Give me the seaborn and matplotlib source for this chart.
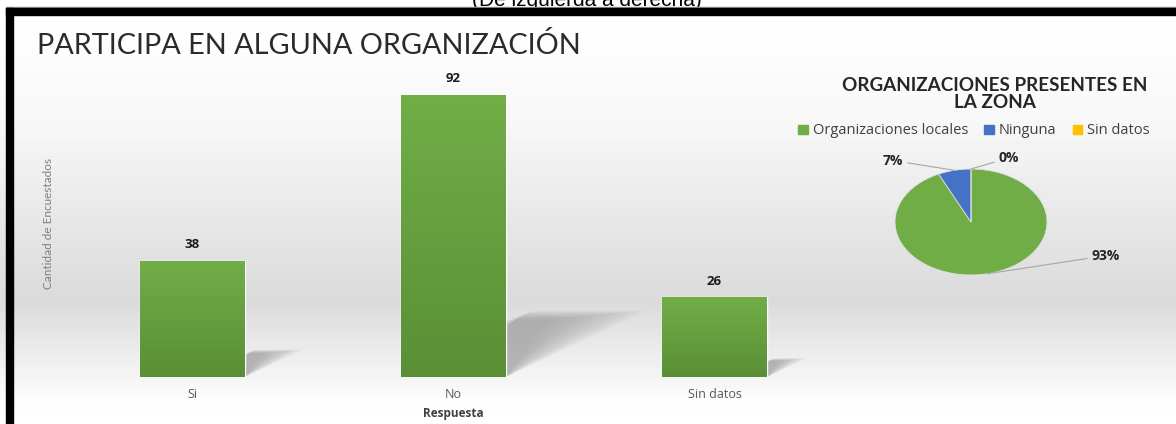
import numpy as np
import pandas as pd
import matplotlib
matplotlib.use("Agg")
import matplotlib.pyplot as plt
import seaborn as sns
from matplotlib.patches import Polygon, Rectangle, Patch
from matplotlib.colors import LinearSegmentedColormap

# ── DATA ────────────────────────────────────────────────────────────────────
respuestas = ["Si", "No", "Sin datos"]
encuestados = [38, 92, 26]

org_labels = ["Organizaciones locales", "Ninguna", "Sin datos"]
org_pct = [93, 7, 0]
org_colors = ["#70AD47", "#4472C4", "#FFC000"]

# ── SETUP ───────────────────────────────────────────────────────────────────
sns.set_theme(style="white")
plt.rcParams["font.family"] = ["Lato", "DejaVu Sans"]

W, H = 1176, 424
fig = plt.figure(figsize=(W / 100, H / 100), dpi=100)

# background gradient + black frame (pixel coords)
bg = fig.add_axes([0, 0, 1, 1], zorder=-10)
rows = np.arange(H)
shade = np.interp(rows, [0, 15, 120, 300, 400, 424],
                  [1.0, 1.0, 0.97, 0.855, 0.99, 1.0])
bg.imshow(shade[:, None], cmap="gray", vmin=0, vmax=1, aspect="auto",
          extent=[0, W, H, 0])
bg.set_xlim(0, W)
bg.set_ylim(H, 0)
bg.axis("off")
bg.text(587, 6, "(De izquierda a derecha)", ha="center", va="baseline",
        fontsize=15, family="Liberation Sans", color="black")
bg.add_patch(Rectangle((6, 7), W, 1.2, color="#9a9a9a", zorder=5))
bg.add_patch(Rectangle((6, 8), W, 7, color="black", zorder=6))
bg.add_patch(Rectangle((6, 8), 7, H, color="black", zorder=6))

fig.text(37 / W, 1 - 45 / H, "PARTICIPA EN ALGUNA ORGANIZACIÓN",
         fontsize=20.8, va="center", ha="left", color="#2b2b2b")

# ── BAR CHART ───────────────────────────────────────────────────────────────
ax = fig.add_axes([62 / W, (H - 377) / H, 783 / W, 306.5 / H])
ax.patch.set_alpha(0)
df = pd.DataFrame({"Respuesta": respuestas, "Cantidad": encuestados})
sns.barplot(data=df, x="Respuesta", y="Cantidad", color="#70AD47",
            width=0.4, ax=ax, zorder=3, saturation=1)

green = LinearSegmentedColormap.from_list("g", ["#5B8F36", "#71AE47"])
grad = np.linspace(0, 1, 100)[:, None]
for p in list(ax.patches):
    x0, w, h = p.get_x(), p.get_width(), p.get_height()
    xr = x0 + w
    s = 0.0059 * h
    # soft shadow: stacked translucent layers, darker near the bar
    for k in np.linspace(1.0, 0.3, 18):
        kv = 0.8 + 0.2 * k
        poly = Polygon([(xr, 0), (xr, 0.2 * h * kv),
                        (xr + 0.2 * s * k, 0.235 * h * kv),
                        (xr + s * k, 0.235 * h * kv)],
                       closed=True, color="#8c8c8c", alpha=0.045, lw=0,
                       zorder=2)
        ax.add_patch(poly)
    im = ax.imshow(grad, cmap=green, extent=[x0, xr, 0, h], aspect="auto",
                   origin="lower", zorder=4)
    im.set_clip_path(p)

ax.set_xlim(-0.5, 2.5)
ax.set_ylim(0, 100)
ax.bar_label(ax.containers[0], padding=7, fontsize=9.5, fontweight="bold",
             family="Open Sans", color="#1a1a1a")
ax.set_yticks([])
ax.tick_params(axis="x", length=0, pad=8, labelsize=9, labelcolor="#595959")
for t in ax.get_xticklabels():
    t.set_family("Open Sans")
ax.set_xlabel("Respuesta", fontsize=8.5, fontweight="bold", color="#404040",
              family="Open Sans", labelpad=4.5)
ax.set_ylabel("Cantidad de Encuestados", fontsize=8.5, color="#7f7f7f")
ax.yaxis.set_label_coords(-0.0102, 0.5)
sns.despine(ax=ax, left=True, bottom=True)

# ── PIE CHART ───────────────────────────────────────────────────────────────
fig.text(995 / W, 1 - 94 / H, "ORGANIZACIONES PRESENTES EN\nLA ZONA",
         fontsize=13.6, fontweight="bold", ha="center", va="center",
         linespacing=1.0, color="#262626")

handles = [Patch(color=c, label=l) for c, l in zip(org_colors, org_labels)]
leg = fig.legend(handles=handles, loc="center", ncol=3, frameon=False,
                 bbox_to_anchor=(974 / W, 1 - 131 / H),
                 prop={"family": "Open Sans", "size": 10.5},
                 handlelength=0.65, handleheight=0.65, handletextpad=0.35,
                 columnspacing=1.1, labelcolor="#404040")

pax = fig.add_axes([895 / W, (H - 275) / H, 152 / W, 106 / H])
wedges, _ = pax.pie(org_pct, colors=org_colors, startangle=90,
                    counterclock=False, radius=1,
                    wedgeprops=dict(linewidth=0.6, edgecolor="#e0e0e0"))
pax.set_aspect("auto")
pax.set_xlim(-1, 1)
pax.set_ylim(-1, 1)
pax.axis("off")

offsets = [(75, 13, "left"), (-37, 7, "right"), (20, 8, "left")]
for wdg, pct, (dx, dy, ha) in zip(wedges, org_pct, offsets):
    ang = np.deg2rad((wdg.theta1 + wdg.theta2) / 2)
    pax.annotate(f"{pct}%", xy=(np.cos(ang), np.sin(ang)),
                 xytext=(dx, dy), textcoords="offset points",
                 ha=ha, va="center", fontsize=10, fontweight="bold",
                 family="Open Sans", color="#262626",
                 arrowprops=dict(arrowstyle="-", color="#a6a6a6", lw=0.8,
                                 shrinkA=1, shrinkB=0))

fig.savefig("out.png", dpi=100)
